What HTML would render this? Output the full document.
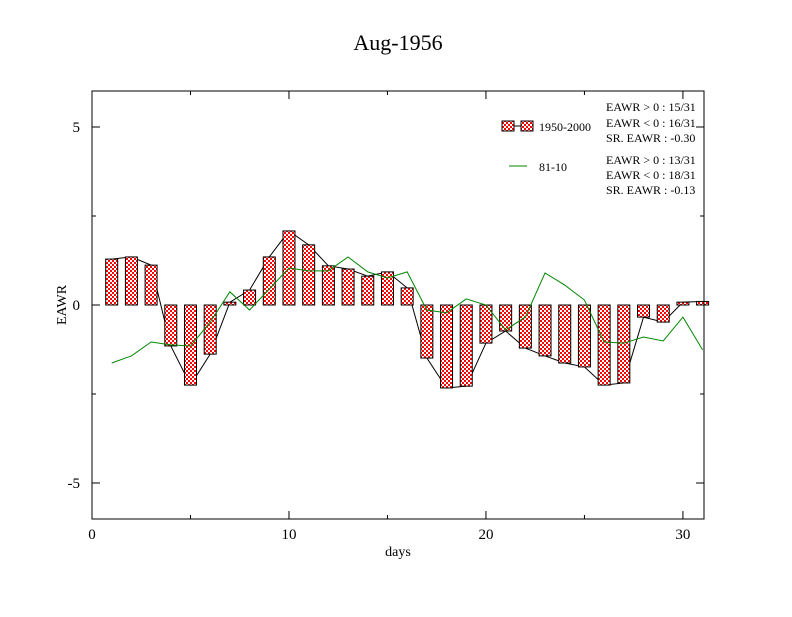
<!DOCTYPE html>
<html><head><meta charset="utf-8"><style>
body{margin:0;background:#fff}
svg text{font-family:"Liberation Serif",serif;fill:#000}
</style></head><body>
<svg width="792" height="612">
<defs><pattern id="chk" width="4" height="4" patternUnits="userSpaceOnUse">
<rect width="4" height="4" fill="#fff"/><rect width="2" height="2" fill="#f00"/><rect x="2" y="2" width="2" height="2" fill="#f00"/></pattern></defs>
<text x="398" y="50" font-size="22" text-anchor="middle">Aug-1956</text>
<g id="plot"></g>
<rect x="92" y="91" width="612" height="428" fill="none" stroke="#000"/>
<text x="398" y="556" font-size="14" text-anchor="middle">days</text>
<text transform="translate(66,305) rotate(-90)" font-size="14" text-anchor="middle">EAWR</text>
<g font-size="12">
<rect x="502" y="121" width="12" height="10" fill="url(#chk)" stroke="#000"/>
<line x1="514" y1="126" x2="521" y2="126" stroke="#000"/>
<rect x="521" y="121" width="12" height="10" fill="url(#chk)" stroke="#000"/>
<text x="539" y="131">1950-2000</text>
<line x1="509" y1="166" x2="527" y2="166" stroke="#080"/>
<text x="539" y="171">81-10</text>
<text x="606" y="111">EAWR &gt; 0 : 15/31</text>
<text x="606" y="127">EAWR &lt; 0 : 16/31</text>
<text x="606" y="142">SR. EAWR : -0.30</text>
<text x="606" y="164">EAWR &gt; 0 : 13/31</text>
<text x="606" y="179">EAWR &lt; 0 : 18/31</text>
<text x="606" y="194">SR. EAWR : -0.13</text>
</g>
</svg>
<script>
const days=[1,2,3,4,5,6,7,8,9,10,11,12,13,14,15,16,17,18,19,20,21,22,23,24,25,26,27,28,29,30,31];
const bars=[1.29,1.35,1.12,-1.15,-2.25,-1.38,0.08,0.42,1.35,2.08,1.69,1.10,1.01,0.81,0.93,0.48,-1.49,-2.33,-2.28,-1.07,-0.73,-1.21,-1.43,-1.63,-1.74,-2.25,-2.19,-0.34,-0.48,0.08,0.10];
const green=[-1.63,-1.43,-1.04,-1.12,-1.15,-0.48,0.37,-0.14,0.45,1.04,0.96,0.96,1.35,0.93,0.76,0.93,-0.14,-0.22,0.17,0,-0.7,-0.34,0.9,0.56,0.14,-1.04,-1.07,-0.9,-1.01,-0.34,-1.26];
const xTicks=[0,10,20,30];
const yTicks=[5,0,-5];
const X=d=>92+d*(612/31.07);
const Y=v=>305-v*35.6;
const NS='http://www.w3.org/2000/svg';
const g=document.getElementById('plot');
function mk(t,a){const e=document.createElementNS(NS,t);for(const k in a)e.setAttribute(k,a[k]);g.appendChild(e);return e;}
// ticks
xTicks.forEach(t=>{const x=X(t);
const l=mk('line',{x1:x,y1:519,x2:x,y2:511,stroke:'#000'});


mk('line',{x1:x,y1:91,x2:x,y2:99,stroke:'#000'});
const tx=mk('text',{x:x,y:539,'font-size':15,'text-anchor':'middle'});tx.textContent=t;

});
for(let t=5;t<31;t+=5){if(t%10){const x=X(t);mk('line',{x1:x,y1:519,x2:x,y2:515,stroke:'#000'});mk('line',{x1:x,y1:91,x2:x,y2:95,stroke:'#000'});}}
yTicks.forEach(t=>{const y=Y(t);
const l=mk('line',{x1:92,y1:y,x2:100,y2:y,stroke:'#000'});


mk('line',{x1:704,y1:y,x2:696,y2:y,stroke:'#000'});
const tx=mk('text',{x:80,y:y+5,'font-size':15,'text-anchor':'end'});tx.textContent=t;

});
[-2.5,2.5].forEach(t=>{const y=Y(t);mk('line',{x1:92,y1:y,x2:96,y2:y,stroke:'#000'});mk('line',{x1:704,y1:y,x2:700,y2:y,stroke:'#000'});});
// black line
const bl=mk('polyline',{points:days.map((d,i)=>X(d)+','+Y(bars[i])).join(' '),fill:'none',stroke:'#000','stroke-width':1});


// bars
days.forEach((d,i)=>{const v=bars[i];const y0=Y(0),y1=Y(v);
const r=mk('rect',{x:X(d)-6,y:Math.min(y0,y1),width:12,height:Math.max(1,Math.abs(y1-y0)),fill:'url(#chk)',stroke:'#000'});

});
const gl=mk('polyline',{points:days.map((d,i)=>X(d)+','+Y(green[i])).join(' '),fill:'none',stroke:'#080','stroke-width':1});


</script>
</body></html>
